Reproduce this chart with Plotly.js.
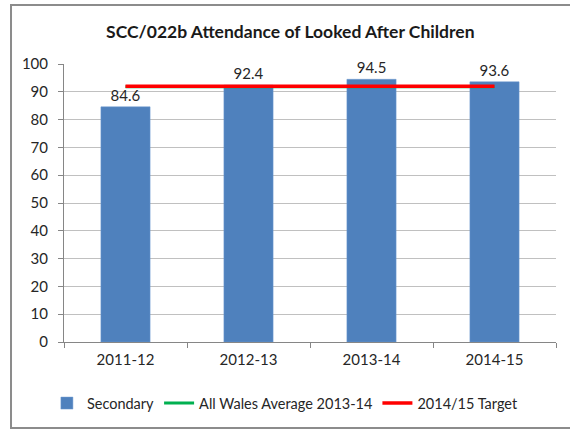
<!DOCTYPE html>
<html>
<head>
<meta charset="utf-8">
<script src="https://cdn.plot.ly/plotly-3.0.1.min.js"></script>
<style>html,body{margin:0;padding:0;background:#fff;}#chart{width:570px;height:430px;}</style>
</head>
<body>
<div id="chart"></div>
<script>
var categories = ["2011-12", "2012-13", "2013-14", "2014-15"];
var secondary = [84.6, 92.4, 94.5, 93.6];
var walesAverage = [91.8, 91.8, 91.8, 91.8];
var target = [92, 92, 92, 92];
var yTicks = [0, 10, 20, 30, 40, 50, 60, 70, 80, 90, 100];

var traces = [
  {
    type: "bar", name: "Secondary", x: categories, y: secondary,
    marker: {color: "#4F81BD", line: {color: "#6F9AD0", width: 0.5}},
    text: secondary.map(function(v){return v.toFixed(1);}),
    textposition: "outside", cliponaxis: false,
    textfont: {family: "Lato, 'Open Sans', sans-serif", size: 15, color: "#262626"},
    hoverinfo: "skip"
  },
  {
    type: "scatter", mode: "lines", name: "All Wales Average 2013-14",
    x: categories, y: walesAverage, line: {color: "#00B050", width: 3}
  },
  {
    type: "scatter", mode: "lines", name: "2014/15 Target",
    x: categories, y: target, line: {color: "#FF0000", width: 3.5}
  }
];

var layout = {
  width: 570, height: 430,
  margin: {l: 64, r: 14, t: 64, b: 88, autoexpand: false},
  paper_bgcolor: "#fff", plot_bgcolor: "#fff",
  font: {family: "Lato, 'Open Sans', sans-serif", size: 14, color: "#262626"},
  title: {text: "<b>SCC/022b Attendance of Looked After Children</b>",
          x: 0.46, xref: "paper", xanchor: "center", y: 0.925, yanchor: "middle",
          font: {family: "Lato, 'Open Sans', sans-serif", size: 17.5, color: "#1a1a1a"}},
  bargap: 0.6,
  showlegend: true,
  legend: {orientation: "h", x: 0.45, xanchor: "center", y: -0.22, yanchor: "middle",
           font: {size: 14.5, color: "#262626"}, traceorder: "normal",
           itemwidth: 30, tracegroupgap: 0},
  xaxis: {
    type: "category", showline: true, linecolor: "#868686", linewidth: 1,
    ticks: "outside", tickson: "boundaries", ticklen: 5, tickcolor: "#868686",
    tickfont: {size: 15}, showgrid: false, fixedrange: true, ticklabelstandoff: 4
  },
  yaxis: {
    range: [0, 100], tickvals: yTicks, ticktext: yTicks.map(String),
    showline: true, linecolor: "#868686", linewidth: 1,
    ticks: "outside", ticklen: 5, tickcolor: "#868686",
    showgrid: true, gridcolor: "#C0C0C0", gridwidth: 1, zeroline: false,
    tickfont: {size: 15}, fixedrange: true, ticklabelstandoff: 7
  },
  shapes: [{
    type: "rect", xref: "paper", yref: "paper",
    x0: -0.1077, x1: 1.04, y0: -0.3094, y1: 1.2122,
    line: {color: "#8c8c8c", width: 2}, fillcolor: "rgba(0,0,0,0)", layer: "below"
  }]
};

Plotly.newPlot("chart", traces, layout, {displayModeBar: false, staticPlot: true});
</script>
</body>
</html>
